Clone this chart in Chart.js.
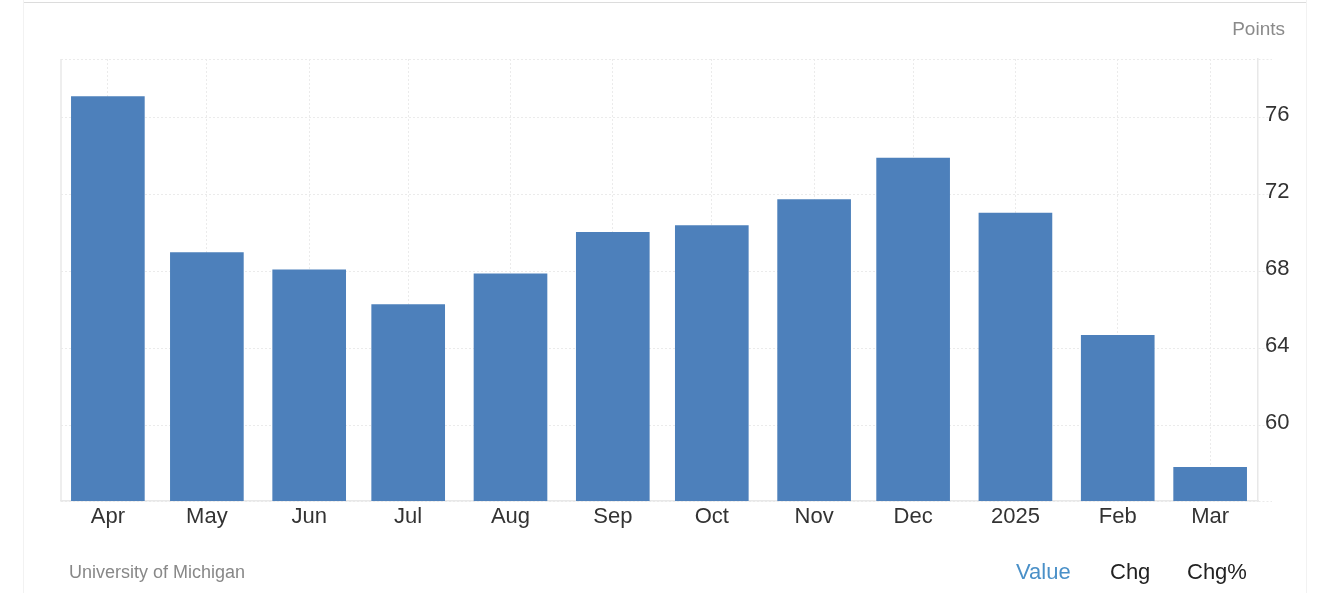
<!DOCTYPE html>
<html>
<head>
<meta charset="utf-8">
<title>Consumer Sentiment</title>
<script src="https://cdn.jsdelivr.net/npm/chart.js@4/dist/chart.umd.min.js"></script>
<style>
  html, body { margin: 0; padding: 0; background: #fff; overflow: hidden; }
  body { width: 1323px; height: 593px; position: relative; font-family: "Liberation Sans", Arial, sans-serif; }
  #chart { position: absolute; left: 0; top: 0; }
  .frame { position: absolute; }
  .txt { position: absolute; white-space: nowrap; line-height: 1; }
</style>
</head>
<body>
<div class="frame" style="left:23px;top:0;width:1px;height:593px;background:#f2f2f2"></div>
<div class="frame" style="left:1306px;top:0;width:1px;height:593px;background:#f2f2f2"></div>
<div class="frame" style="left:24px;top:2px;width:1282px;height:1px;background:#dcdcdc"></div>
<canvas id="chart" width="1323" height="593"></canvas>
<div class="txt" style="right:38px;top:19px;font-size:19px;color:#8a8a8a">Points</div>
<div class="txt" style="left:69px;top:563px;font-size:18px;color:#888">University of Michigan</div>
<div class="txt" style="left:1016px;top:561px;font-size:22px;color:#4a90c8">Value</div>
<div class="txt" style="left:1110px;top:561px;font-size:22px;color:#222">Chg</div>
<div class="txt" style="left:1187px;top:561px;font-size:22px;color:#222">Chg%</div>
<script>
const categories = ['Apr', 'May', 'Jun', 'Jul', 'Aug', 'Sep', 'Oct', 'Nov', 'Dec', '2025', 'Feb', 'Mar'];
// days since 1 Apr, the axis is a real time axis so months differ in width
const dayOffsets = [0, 30, 61, 91, 122, 153, 183, 214, 244, 275, 306, 334];
const values = [77.1, 69.0, 68.1, 66.3, 67.9, 70.05, 70.4, 71.75, 73.9, 71.05, 64.7, 57.85];
const yTicks = [56.1, 60, 64, 68, 72, 76, 79.05];
const yLabels = ['', '60', '64', '68', '72', '76', ''];

const gridColor = '#ebebeb';
const textColor = '#333';

// left edge of the plot, no axis sits there
const leftEdge = {
    id: 'leftEdge',
    afterDatasetsDraw(chart) {
        const { ctx, chartArea } = chart;
        ctx.save();
        ctx.strokeStyle = '#e8e8e8';
        ctx.lineWidth = 1.5;
        ctx.beginPath();
        ctx.moveTo(chartArea.left, chartArea.top);
        ctx.lineTo(chartArea.left, chartArea.bottom);
        ctx.stroke();
        ctx.restore();
    }
};

new Chart(document.getElementById('chart'), {
    type: 'bar',
    data: {
        datasets: [
            {
                data: dayOffsets.map((d, i) => ({ x: d, y: values[i] })),
                backgroundColor: '#4d80bb',
                barThickness: 73
            }
        ]
    },
    options: {
        responsive: false,
        animation: false,
        layout: { padding: { left: 61, top: 59, right: 0, bottom: 0 } },
        plugins: { legend: { display: false }, tooltip: { enabled: false } },
        scales: {
            x: {
                type: 'linear',
                offset: false,
                min: -14.2,
                max: 348.5,
                afterBuildTicks(scale) {
                    scale.ticks = dayOffsets.map(d => ({ value: d }));
                },
                afterFit(scale) {
                    scale.height = 92;
                },
                grid: {
                    offset: false,
                    color: gridColor,
                    tickLength: 0
                },
                border: { color: '#e8e8e8', width: 1.5, dash: [2, 2] },
                ticks: {
                    autoSkip: false,
                    maxRotation: 0,
                    padding: 3,
                    color: textColor,
                    font: { family: '"Liberation Sans"', size: 22 },
                    callback: (v, i) => categories[i]
                }
            },
            y: {
                position: 'right',
                min: 56.1,
                max: 79.05,
                afterBuildTicks(scale) {
                    scale.ticks = yTicks.map(v => ({ value: v }));
                },
                afterFit(scale) {
                    scale.width = 65;
                },
                grid: {
                    color: gridColor,
                    tickColor: gridColor,
                    tickLength: 14,
                    tickBorderDash: [2, 2]
                },
                border: { color: '#e8e8e8', width: 1.5, dash: [2, 2] },
                ticks: {
                    autoSkip: false,
                    padding: -7,
                    labelOffset: -3,
                    color: textColor,
                    font: { family: '"Liberation Sans"', size: 22 },
                    callback: (v, i) => yLabels[i]
                }
            }
        }
    },
    plugins: [leftEdge]
});
</script>
</body>
</html>
